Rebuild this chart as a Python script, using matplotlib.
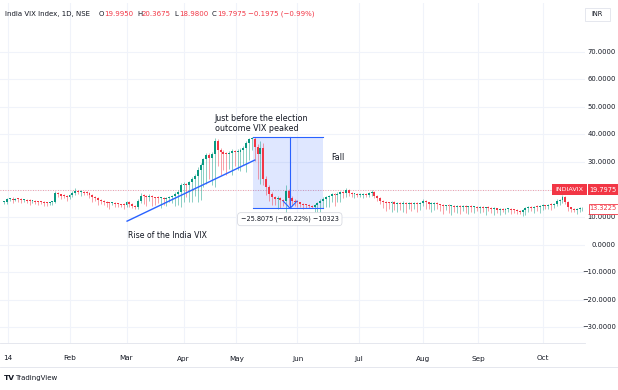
import numpy as np
import matplotlib.pyplot as plt
from matplotlib.patches import Rectangle
from matplotlib.transforms import blended_transform_factory

# daglig India VIX, stängning per stapel
closes = [15.6, 16.4, 16.6, 16.3, 16.5, 16.4, 16.1, 16.3, 16.0, 15.8, 15.9, 15.6, 15.5, 15.4, 15.2, 15.0, 15.3, 15.6,
          18.6, 18.2, 17.8, 17.6, 17.2, 17.9, 18.9, 19.3, 19.0, 19.2, 18.9, 18.7,
          18.0, 17.2, 16.8, 16.2, 15.8, 15.4, 15.1, 15.0, 15.2, 14.8, 14.6, 14.5, 14.3,
          15.3, 14.8, 14.0, 13.6, 16.0, 17.8, 17.5, 17.3, 17.6, 17.1, 17.0, 16.8, 16.9, 16.5,
          17.0, 17.2, 17.6, 18.4, 19.2, 21.5, 22.0, 21.8, 22.6, 23.8, 25.0, 27.2, 29.0, 31.0, 32.5,
          31.5, 33.0, 37.8, 34.5, 33.8, 33.0, 32.8, 33.2, 34.0, 33.5, 33.8, 34.5, 35.2, 36.8, 38.2, 38.5,
          35.5, 33.0, 35.0, 23.8, 21.0, 18.5, 17.2, 16.5, 16.8, 16.2, 15.9, 19.5, 17.0,
          16.0, 15.6, 15.3, 14.8, 14.5, 14.2, 14.0, 13.8, 14.3, 15.0, 15.8, 16.6, 17.3,
          17.6, 18.2, 18.0, 18.5, 19.0, 18.8, 19.9, 18.6, 18.2, 18.4, 18.0, 18.1, 18.3, 18.0,
          18.6, 19.2, 17.5, 16.8, 16.0, 15.6, 15.2, 15.0, 15.4, 14.9, 15.0, 14.8, 15.2, 14.9, 15.1,
          14.8, 15.0, 14.7, 15.0, 15.9, 15.3, 14.8, 14.9, 15.1, 14.6,
          14.3, 14.0, 14.2, 13.9, 14.1, 13.8, 14.0, 13.7, 13.9, 13.6, 13.8,
          13.5, 13.7, 13.4, 13.6, 13.3, 13.5, 13.2, 12.9, 13.1, 12.7, 12.9, 12.6, 12.8,
          12.9, 12.7, 12.4, 12.2, 11.8, 12.6, 13.2, 13.5, 13.3, 13.8, 13.5, 13.9, 14.2, 14.0,
          14.5, 14.3, 14.7, 15.8, 16.2, 17.2, 15.5, 13.5, 12.8, 12.6, 12.9, 13.1, 13.3225]

lo_wick = [0.6, 0.9, 0.7, 1.2, 0.5, 0.8, 1.0, 0.6, 0.9, 1.4, 0.7, 0.8, 1.1, 0.6, 1.3, 0.9, 0.7, 0.8,
           0.5, 0.9, 1.2, 0.7, 1.5, 0.6, 0.8, 1.0, 0.7, 1.3, 0.9, 0.8,
           1.2, 1.6, 1.0, 2.0, 1.1, 0.9, 1.4, 2.2, 0.8, 1.2, 1.0, 0.7, 1.3,
           0.6, 1.1, 0.9, 0.8, 0.7, 1.0, 2.8, 3.2, 1.5, 3.0, 2.6, 1.8, 3.4, 2.2,
           2.5, 1.6, 2.0, 3.5, 4.0, 5.5, 6.0, 4.5, 6.5, 7.0, 6.0, 9.5, 11.0, 8.0, 9.0,
           7.5, 10.0, 12.0, 6.0, 8.5, 6.0, 7.5, 5.5, 8.0, 5.0, 6.5, 7.0, 5.5, 9.0, 6.0, 4.0,
           5.0, 9.0, 11.0, 2.0, 3.0, 2.5, 3.0, 2.2, 3.5, 2.8, 2.0, 4.5, 2.5,
           2.0, 1.5, 1.8, 1.2, 1.5, 1.0, 0.7, 0.6, 1.8, 2.5, 3.0, 2.5, 2.8,
           3.5, 2.0, 4.0, 2.5, 3.0, 2.0, 1.5, 0.8, 1.0, 1.2, 0.7, 0.9, 1.1, 0.8,
           0.6, 1.0, 0.7, 0.9, 1.2, 2.5, 3.0, 2.0, 3.2, 2.4, 3.0, 2.2, 2.8, 3.5, 2.0,
           2.6, 1.8, 3.0, 2.2, 1.0, 2.5, 2.0, 3.0, 2.4, 1.6,
           2.0, 2.8, 1.5, 2.4, 3.0, 1.8, 2.2, 2.6, 1.4, 2.0, 2.5,
           1.8, 2.2, 1.2, 2.0, 1.6, 2.4, 1.0, 1.5, 2.0, 1.2, 1.8, 0.8, 1.4,
           1.0, 1.5, 0.9, 1.2, 0.8, 1.6, 2.0, 1.4, 1.2, 1.8, 1.2, 2.0, 1.5, 1.0,
           1.2, 1.6, 1.0, 0.8, 1.4, 1.0, 0.8, 1.2, 1.0, 0.8, 1.4, 1.2, 0.9]

hi_wick = [0.4, 0.5, 0.3, 0.6, 0.4, 0.3, 0.5, 0.4, 0.3, 0.5, 0.4, 0.3, 0.4, 0.5, 0.3, 0.4, 0.3, 0.4,
           1.0, 0.4, 0.3, 0.5, 0.4, 0.3, 0.6, 1.2, 0.4, 0.5, 0.3, 0.4,
           0.4, 0.3, 0.5, 0.4, 0.3, 0.4, 0.5, 0.3, 0.4, 0.3, 0.4, 0.3, 0.5,
           0.6, 0.4, 0.3, 0.4, 0.5, 0.8, 0.4, 0.5, 0.6, 0.4, 0.3, 0.5, 0.4, 0.3,
           0.4, 0.5, 0.4, 0.6, 0.5, 0.8, 0.7, 0.5, 0.6, 0.8, 0.7, 0.9, 0.8, 0.6, 0.7,
           0.8, 0.6, 1.0, 0.7, 0.5, 0.6, 0.5, 0.7, 0.6, 0.5, 0.8, 0.6, 0.7, 0.9, 0.6, 0.47,
           0.6, 1.0, 2.5, 2.0, 1.0, 0.8, 0.6, 0.5, 0.7, 0.5, 0.4, 2.0, 0.6,
           0.5, 0.4, 0.5, 0.3, 0.4, 0.3, 0.4, 0.3, 0.5, 0.4, 0.6, 0.5, 0.4,
           0.5, 0.6, 0.4, 0.5, 0.6, 0.5, 0.5, 0.4, 0.5, 0.3, 0.4, 0.5, 0.3, 0.4,
           0.5, 0.6, 0.4, 0.5, 0.4, 0.3, 0.4, 0.3, 0.5, 0.4, 0.3, 0.4, 0.5, 0.3, 0.4,
           0.3, 0.4, 0.3, 0.5, 0.6, 0.4, 0.3, 0.4, 0.3, 0.4,
           0.3, 0.4, 0.3, 0.4, 0.3, 0.4, 0.3, 0.4, 0.3, 0.4, 0.3,
           0.4, 0.3, 0.4, 0.3, 0.4, 0.3, 0.4, 0.3, 0.4, 0.3, 0.4, 0.3, 0.4,
           0.3, 0.4, 0.3, 0.4, 0.5, 0.4, 0.3, 0.5, 0.4, 0.3, 0.4, 0.5, 0.4, 0.3,
           0.4, 0.5, 0.4, 0.6, 0.5, 0.8, 0.5, 0.4, 0.3, 0.4, 0.3, 0.4, 0.3]

month_pos = [1.4, 23, 43, 63, 81.5, 103, 124.5, 147, 166.5, 189]
month_lab = ['14', 'Feb', 'Mar', 'Apr', 'May', 'Jun', 'Jul', 'Aug', 'Sep', 'Oct']
price_ticks = [-30, -20, -10, 0, 10, 20, 30, 40, 50, 60, 70]

last_price = 19.7975
fall_top = 38.97
fall_bot = 13.1625

GREEN = '#089981'
RED = '#f23645'
BLUE = '#2962ff'
TXT = '#131722'

W, H = 618, 390
def fx(x): return x / W
def fy(y): return 1 - y / H

fig = plt.figure(figsize=(W / 100, H / 100), dpi=100)
ax = fig.add_axes([0, fy(343), fx(585), (343 - 3) / H])
ax.set_xlim(-1.4, 203.9)
ax.set_ylim(-35.8, 87.8)

# ljuskroppar och vekar
c = np.array(closes)
o = np.concatenate([[c[0] - 0.3], c[:-1]])
x = np.arange(len(c))
up = c >= o
col = np.where(up, GREEN, RED)
lo = np.minimum(o, c) - np.array(lo_wick)
hi = np.maximum(o, c) + np.array(hi_wick)
ax.vlines(x, lo, hi, colors=col, lw=0.6, alpha=0.55, zorder=3)
body_b = np.minimum(o, c)
body_h = np.maximum(np.abs(c - o), 0.35)
ax.bar(x, body_h, bottom=body_b, width=0.68, color=col, zorder=4, linewidth=0)

# rutnät
ax.set_xticks(month_pos)
ax.set_xticklabels(month_lab)
ax.set_yticks(price_ticks)
ax.set_yticklabels([])
ax.grid(True, color='#f0f3fa', lw=0.8)
ax.tick_params(axis='y', length=0)
ax.tick_params(axis='x', length=0, pad=9, labelsize=5.2, labelcolor=TXT)
for s in ['top', 'left', 'right']:
    ax.spines[s].set_visible(False)
ax.spines['bottom'].set_color('#e0e3eb')
ax.spines['bottom'].set_linewidth(0.6)

# prisskala, högerjusterad
tr = blended_transform_factory(fig.transFigure, ax.transData)
for t in price_ticks:
    if abs(t - last_price) < 3:
        continue  # döljs av prisetiketten
    s = '%.4f' % t if t >= 0 else '\u2212%.4f' % -t
    ax.text(fx(616), t, s, transform=tr, fontsize=4.9, color=TXT, ha='right', va='center', clip_on=False)

ax.axhline(last_price, color=RED, lw=0.6, ls=(0, (1, 2)), alpha=0.6, zorder=2)

# stigande trendlinje
ax.plot([43.2, 88], [8.5, 30.7], color=BLUE, lw=1.0, zorder=5)
ax.text(43.5, 3.1, 'Rise of the India VIX', fontsize=5.6, color=TXT, va='center', ha='left')
ax.text(74, 40.6, 'Just before the election\noutcome VIX peaked', fontsize=5.8, color=TXT,
        va='bottom', ha='left', linespacing=1.15)

# mätruta för fallet
ax.add_patch(Rectangle((87.4, fall_bot), 111.9 - 87.4, fall_top - fall_bot,
                       facecolor=BLUE, alpha=0.15, edgecolor='none', zorder=2))
ax.plot([87.4, 111.9], [fall_top, fall_top], color=BLUE, lw=0.8, zorder=5)
ax.plot([87.4, 111.9], [fall_bot, fall_bot], color=BLUE, lw=0.8, zorder=5)
ax.plot([100.4, 100.4], [fall_top, fall_bot], color=BLUE, lw=0.8, zorder=5)
ax.plot([98.0, 100.4, 102.8], [fall_bot + 2.6, fall_bot, fall_bot + 2.6], color=BLUE, lw=0.8, zorder=5)
ax.text(114.7, 31.8, 'Fall', fontsize=5.8, color=TXT, va='center', ha='left')
ax.text(100.3, 9.2, '\u221225.8075 (\u221266.22%) \u221210323', fontsize=4.7, color=TXT,
        ha='center', va='center', zorder=6,
        bbox=dict(boxstyle='round,pad=0.5', fc='white', ec='#d1d4dc', lw=0.5))

# prisetiketter till höger
fig.add_artist(Rectangle((fx(552), fy(195)), fx(35), 11 / H, transform=fig.transFigure,
                         facecolor=RED, edgecolor='none'))
fig.add_artist(Rectangle((fx(588), fy(195)), fx(30), 11 / H, transform=fig.transFigure,
                         facecolor=RED, edgecolor='none'))
fig.text(fx(569.5), fy(189.5), 'INDIAVIX', fontsize=4.6, color='white', ha='center', va='center')
fig.text(fx(603), fy(189.5), '%.4f' % last_price, fontsize=4.8, color='white', ha='center', va='center')
fig.add_artist(Rectangle((fx(588.5), fy(213.5)), fx(29), 10 / H, transform=fig.transFigure,
                         facecolor='white', edgecolor=RED, lw=0.6))
fig.text(fx(603), fy(208.5), '%.4f' % closes[-1], fontsize=4.8, color=RED, ha='center', va='center')

# INR-knapp
fig.add_artist(Rectangle((fx(585), fy(21)), fx(25), 13 / H, transform=fig.transFigure,
                         facecolor='white', edgecolor='#e0e3eb', lw=0.6))
fig.text(fx(597.5), fy(14.5), 'INR', fontsize=4.8, color=TXT, ha='center', va='center')

# rubrikrad
fig.text(fx(5), fy(14), 'India VIX Index, 1D, NSE', fontsize=5.05, color=TXT, va='center')
parts = [(99, 'O', TXT), (104, '19.9950', RED), (137, 'H', TXT), (142, '20.3675', RED),
         (174, 'L', TXT), (179, '18.9800', RED), (212, 'C', TXT), (217, '19.7975', RED),
         (248, '\u22120.1975 (\u22120.99%)', RED)]
for px, s, cc in parts:
    fig.text(fx(px), fy(14), s, fontsize=5.05, color=cc, va='center')

# nederkant
fig.add_artist(plt.Line2D([0, 1], [fy(367), fy(367)], transform=fig.transFigure, color='#e0e3eb', lw=0.6))
fig.text(fx(4), fy(378), 'TV', fontsize=5.4, color=TXT, va='center', fontweight='bold')
fig.text(fx(15), fy(378), 'TradingView', fontsize=5.0, color=TXT, va='center')

fig.savefig('out.png', dpi=100, facecolor='white')
